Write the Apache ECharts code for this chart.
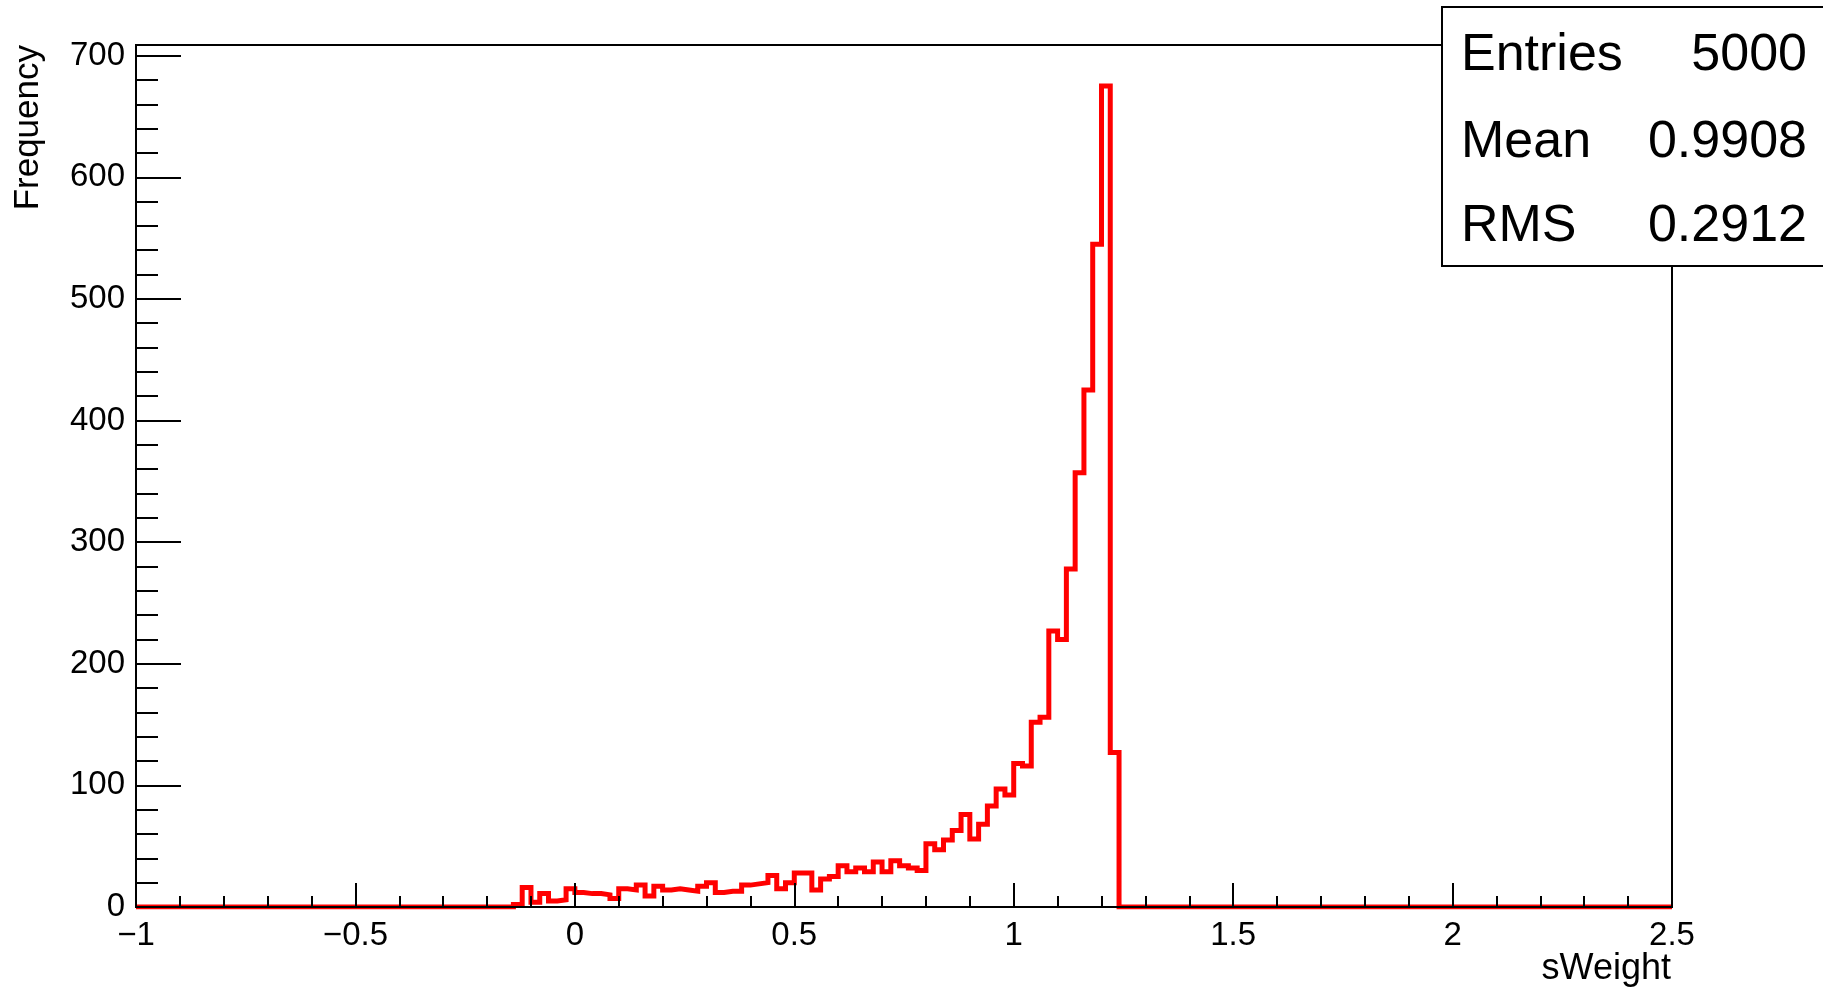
<!DOCTYPE html>
<html>
<head>
<meta charset="utf-8">
<title>sWeight</title>
<script src="https://cdn.jsdelivr.net/npm/echarts@6/dist/echarts.min.js"></script>
<style>
  html, body { margin: 0; padding: 0; background: #ffffff; }
  #chart { width: 1823px; height: 987px; }
</style>
</head>
<body>
<div id="chart"></div>
<script>
// Histogram of sWeight: 175 bins of width 0.02 over [-1, 2.5]; only the filled bins are listed.
const xRange = [-1, 2.5];
const binWidth = 0.02;
const firstBinLow = -0.14;
const counts = [
  2, 16, 4, 11, 5, 6, 15,            // -0.14 .. 0.00
  12, 11, 11, 10, 7,                 // 0.00 .. 0.10
  15, 14, 18, 9, 17,                 // 0.10 .. 0.20
  14, 15, 14, 13, 17,                // 0.20 .. 0.30
  20, 12, 13, 13, 18,                // 0.30 .. 0.40
  19, 20, 26, 15, 20,                // 0.40 .. 0.50
  28, 28, 14, 23, 25,                // 0.50 .. 0.60
  34, 29, 32, 29, 37,                // 0.60 .. 0.70
  29, 38, 34, 32, 30,                // 0.70 .. 0.80
  52, 47, 55, 63, 76,                // 0.80 .. 0.90
  56, 68, 83, 97, 92,                // 0.90 .. 1.00
  118, 116, 152, 156, 227,           // 1.00 .. 1.10
  220, 278, 357, 425, 545,           // 1.10 .. 1.20
  675, 127                           // 1.20 .. 1.24
];
const statLabels = ['Entries', 'Mean', 'RMS'];
const statValues = ['5000', '0.9908', '0.2912'];
const xTitle = 'sWeight';
const yTitle = 'Frequency';

// Step outline: one point per bin low edge, closed back to zero after the last bin.
const peak = Math.max.apply(null, counts);
const yMax = peak * 1.05;
const outline = [[xRange[0], 0]];
counts.forEach(function (c, i) {
  outline.push([+(firstBinLow + i * binWidth).toFixed(4), c]);
});
outline.push([+(firstBinLow + counts.length * binWidth).toFixed(4), 0]);
outline.push([xRange[1], 0]);

const FONT = '"Liberation Sans", Arial, Helvetica, sans-serif';

function fmtX(v) {
  const r = Math.round(v * 10) / 10;
  if (Math.abs(r) < 1e-9) return '0';
  const s = String(Math.abs(r));
  return r < 0 ? '\u2212' + s : s;
}

const chart = echarts.init(document.getElementById('chart'), null, { renderer: 'canvas' });

// Statistics box in the top-right corner, running off the right edge.
const rowY = [56, 143, 227];
const overlay = [{
  type: 'rect',
  shape: { x: 1442, y: 7, width: 400, height: 259 },
  style: { fill: '#ffffff', stroke: '#000000', lineWidth: 2 },
  z: 100
}];
statLabels.forEach(function (lab, i) {
  overlay.push({
    type: 'text', x: 1461, y: rowY[i], z: 101,
    style: { text: lab, font: '52px ' + FONT, fill: '#000', textAlign: 'left', textVerticalAlign: 'middle' }
  });
  overlay.push({
    type: 'text', x: 1807, y: rowY[i], z: 101,
    style: { text: statValues[i], font: '52px ' + FONT, fill: '#000', textAlign: 'right', textVerticalAlign: 'middle' }
  });
});
// x-axis title, right-aligned under the end of the axis
overlay.push({
  type: 'text', right: 152, top: 951, z: 10,
  style: { text: xTitle, font: '36px ' + FONT, fill: '#000' }
});

chart.setOption({
  animation: false,
  backgroundColor: '#ffffff',
  grid: {
    left: 136, right: 151, top: 45, bottom: 80,
    outerBoundsMode: 'none', containLabel: false,
    show: true, borderColor: '#000000', borderWidth: 2, backgroundColor: 'transparent'
  },
  xAxis: [{
    type: 'value', min: xRange[0], max: xRange[1], interval: 0.5,
    position: 'bottom', z: 5,
    axisLine: { show: true, onZero: false, lineStyle: { color: '#000', width: 2 } },
    axisTick: { show: true, inside: true, length: 24, lineStyle: { color: '#000', width: 2 } },
    axisLabel: { show: true, margin: 12, color: '#000', fontSize: 33, fontFamily: FONT, formatter: fmtX },
    splitLine: { show: false }
  }, {
    type: 'value', min: xRange[0], max: xRange[1], interval: 0.1,
    position: 'bottom', z: 5,
    axisLine: { show: false, onZero: false },
    axisTick: { show: true, inside: true, length: 11, lineStyle: { color: '#000', width: 2 } },
    axisLabel: { show: false },
    splitLine: { show: false }
  }],
  yAxis: [{
    type: 'value', min: 0, max: yMax, interval: 100,
    position: 'left', z: 5,
    axisLine: { show: true, onZero: false, lineStyle: { color: '#000', width: 2 } },
    axisTick: { show: true, inside: true, length: 45, lineStyle: { color: '#000', width: 2 } },
    axisLabel: {
      show: true, margin: 11, color: '#000', fontSize: 33, fontFamily: FONT,
      showMaxLabel: false,
      formatter: function (v) { return v % 100 === 0 ? String(v) : ''; }
    },
    splitLine: { show: false },
    name: yTitle, nameLocation: 'end', nameGap: 0, nameRotate: 90,
    nameTextStyle: { color: '#000', fontSize: 35, fontFamily: FONT, align: 'right', verticalAlign: 'bottom', padding: [0, 0, 90, 0] }
  }, {
    type: 'value', min: 0, max: yMax, interval: 20,
    position: 'left', z: 5,
    axisLine: { show: false, onZero: false },
    axisTick: { show: true, inside: true, length: 22, lineStyle: { color: '#000', width: 2 } },
    axisLabel: { show: false },
    splitLine: { show: false }
  }],
  series: [{
    type: 'line',
    xAxisIndex: 0, yAxisIndex: 0,
    data: outline,
    step: 'end',
    symbol: 'none',
    lineStyle: { color: '#ff0000', width: 5, join: 'miter' },
    itemStyle: { color: '#ff0000' },
    z: 3
  }],
  graphic: overlay
});
</script>
</body>
</html>
